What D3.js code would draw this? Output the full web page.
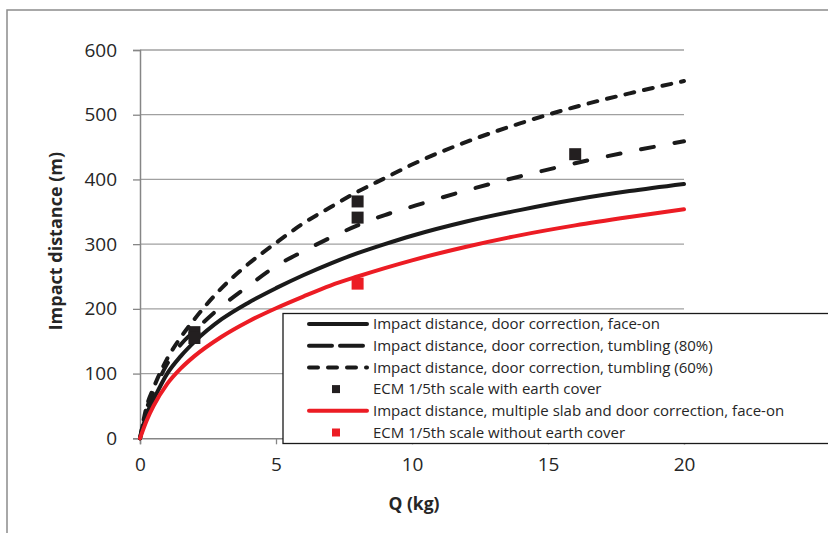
<!DOCTYPE html>
<html>
<head>
<meta charset="utf-8">
<script src="https://cdn.jsdelivr.net/npm/d3@7"></script>
<style>
  body { margin: 0; background: #fff; }
  svg { display: block; }
</style>
</head>
<body>
<div id="chart"></div>
<script>
// DATA
const qValues = [0, 0.25, 0.5, 1, 1.5, 2, 3, 4, 5, 6, 7, 8, 9, 10, 12, 14, 16, 18, 20];
const faceOn = [0, 38, 60, 100, 127, 149, 184, 210, 232, 252, 270, 286, 300, 313, 335, 353, 369, 382, 393];
const tumbling80 = [0, 46, 72, 115, 145, 166, 204, 236, 266, 289, 310, 329, 345, 358, 383, 405, 425, 443, 459];
const tumbling60 = [0, 50, 78, 123, 156, 184, 232, 270, 302, 332, 357, 381, 402, 423, 458, 487, 512, 533, 552];
const multiSlab = [0, 28, 50, 84, 108, 127, 157, 181, 201, 219, 236, 250, 263, 275, 296, 314, 329, 342, 354];

const earthCoverQ = [2, 2, 8, 8, 16];
const earthCoverD = [164, 155, 366, 341, 439];
const noCoverQ = [8];
const noCoverD = [239];

const xTicks = [0, 5, 10, 15, 20];
const yTicks = [0, 100, 200, 300, 400, 500, 600];

const legendLabels = [
  "Impact distance, door correction, face-on",
  "Impact distance, door correction, tumbling (80%)",
  "Impact distance, door correction, tumbling (60%)",
  "ECM 1/5th scale with earth cover",
  "Impact distance, multiple slab and door correction, face-on",
  "ECM 1/5th scale without earth cover",
];

const W = 828, H = 533;
const MARGIN = { LEFT: 140, TOP: 50, RIGHT: 144, BOTTOM: 94.7 };
const WIDTH = W - MARGIN.LEFT - MARGIN.RIGHT;
const HEIGHT = H - MARGIN.TOP - MARGIN.BOTTOM;

const svg = d3
  .select("#chart")
  .append("svg")
  .attr("width", W)
  .attr("height", H);

// outer frame
svg
  .append("rect")
  .attr("x", 7)
  .attr("y", 10)
  .attr("width", 840)
  .attr("height", 560)
  .attr("fill", "none")
  .attr("stroke", "#8c8c8c")
  .attr("stroke-width", 1.5);

const chart = svg
  .append("g")
  .attr("transform", `translate(${MARGIN.LEFT}, ${MARGIN.TOP})`);

let x = d3.scaleLinear().domain([0, 20]).range([0, WIDTH]);
let y = d3.scaleLinear().domain([0, 600]).range([HEIGHT, 0]);

// GRID
chart
  .append("g")
  .selectAll("line")
  .data(yTicks.slice(1))
  .enter()
  .append("line")
  .attr("x1", 0)
  .attr("x2", WIDTH)
  .attr("y1", (d) => y(d))
  .attr("y2", (d) => y(d))
  .attr("stroke", "#a0a0a0")
  .attr("stroke-width", 1.3);

// AXIS
const yAxisGroup = chart
  .append("g")
  .attr("class", "yAxis")
  .call(d3.axisLeft(y).tickValues(yTicks).tickSize(7).tickPadding(16));

const xAxisGroup = chart
  .append("g")
  .attr("class", "xAxis")
  .attr("transform", `translate(0, ${HEIGHT})`)
  .call(d3.axisBottom(x).tickValues(xTicks).tickSize(6).tickPadding(13));

[yAxisGroup, xAxisGroup].forEach((g) => {
  g.selectAll(".domain").attr("stroke", "#868686").attr("stroke-width", 1.5);
  g.selectAll(".tick line").attr("stroke", "#868686").attr("stroke-width", 1.3);
  g.selectAll(".tick text")
    .attr("font-family", "'Open Sans', sans-serif")
    .attr("font-size", "19px")
    .attr("fill", "#262626");
});

// LABELS
chart
  .append("text")
  .attr("x", WIDTH / 2 + 2)
  .attr("y", HEIGHT + 72)
  .attr("text-anchor", "middle")
  .attr("font-family", "'Open Sans', sans-serif")
  .attr("font-weight", "bold")
  .attr("font-size", "17.5px")
  .style("fill", "#262626")
  .text("Q (kg)");

chart
  .append("text")
  .attr("x", -(HEIGHT / 2) + 3)
  .attr("y", -78)
  .attr("text-anchor", "middle")
  .attr("transform", "rotate(-90)")
  .attr("font-family", "'Open Sans', sans-serif")
  .attr("font-weight", "bold")
  .attr("font-size", "18px")
  .style("fill", "#262626")
  .text("Impact distance (m)");

// LINES
const series = [
  { values: faceOn, color: "#1a1a1a", dash: null },
  { values: tumbling80, color: "#1a1a1a", dash: "13,21" },
  { values: tumbling60, color: "#1a1a1a", dash: "9,10" },
  { values: multiSlab, color: "#ec1c24", dash: null },
];

const line = d3
  .line()
  .x((d) => x(d[0]))
  .y((d) => y(d[1]))
  .curve(d3.curveMonotoneX);

chart
  .selectAll(".series")
  .data(series)
  .enter()
  .append("path")
  .attr("class", "series")
  .attr("d", (s) => line(qValues.map((q, i) => [q, s.values[i]])))
  .attr("fill", "none")
  .attr("stroke", (s) => s.color)
  .attr("stroke-width", 4)
  .attr("stroke-linecap", "round")
  .attr("stroke-dasharray", (s) => s.dash);

// MARKERS
const SQ = 12;
chart
  .selectAll(".earth")
  .data(earthCoverQ.map((q, i) => [q, earthCoverD[i]]))
  .enter()
  .append("rect")
  .attr("x", (d) => x(d[0]) - SQ / 2)
  .attr("y", (d) => y(d[1]) - SQ / 2)
  .attr("width", SQ)
  .attr("height", SQ)
  .attr("fill", "#231f20");

chart
  .selectAll(".nocover")
  .data(noCoverQ.map((q, i) => [q, noCoverD[i]]))
  .enter()
  .append("rect")
  .attr("x", (d) => x(d[0]) - SQ / 2)
  .attr("y", (d) => y(d[1]) - SQ / 2)
  .attr("width", SQ)
  .attr("height", SQ)
  .attr("fill", "#ec1c24");

// LEGEND
const legend = svg.append("g").attr("transform", "translate(283, 313.5)");
legend
  .append("rect")
  .attr("width", 600)
  .attr("height", 130)
  .attr("fill", "#fff")
  .attr("stroke", "#1a1a1a")
  .attr("stroke-width", 1.3);

const legendItems = [
  { type: "line", color: "#1a1a1a", dash: null },
  { type: "line", color: "#1a1a1a", dash: "23,8" },
  { type: "line", color: "#1a1a1a", dash: "9,10" },
  { type: "square", color: "#231f20" },
  { type: "line", color: "#ec1c24", dash: null },
  { type: "square", color: "#ec1c24" },
];

const rows = legend
  .selectAll(".row")
  .data(legendItems)
  .enter()
  .append("g")
  .attr("transform", (d, i) => `translate(0, ${10.5 + i * 21.7})`);

rows
  .filter((d) => d.type === "line")
  .append("line")
  .attr("x1", 26)
  .attr("x2", 84)
  .attr("stroke", (d) => d.color)
  .attr("stroke-width", 4)
  .attr("stroke-linecap", "round")
  .attr("stroke-dasharray", (d) => d.dash);

rows
  .filter((d) => d.type === "square")
  .append("rect")
  .attr("x", 49)
  .attr("y", -4)
  .attr("width", 8)
  .attr("height", 8)
  .attr("fill", (d) => d.color);

rows
  .append("text")
  .attr("x", 90)
  .attr("dy", "0.35em")
  .attr("font-family", "'Open Sans', sans-serif")
  .attr("font-size", "15px")
  .style("fill", "#262626")
  .text((d, i) => legendLabels[i]);
</script>
</body>
</html>
